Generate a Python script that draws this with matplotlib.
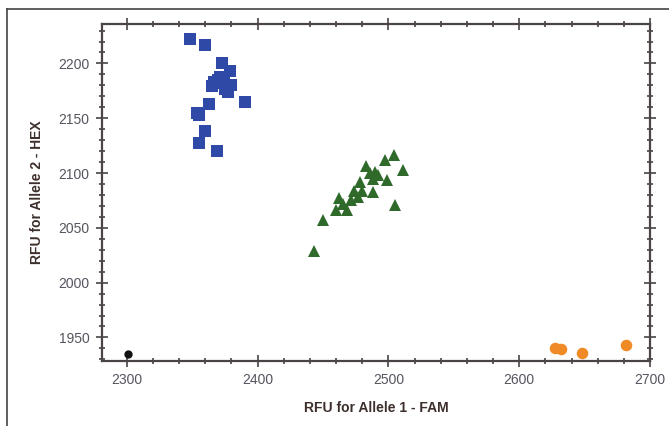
"""Allelic discrimination plot: HEX vs FAM end-point fluorescence."""
import matplotlib
matplotlib.use("Agg")
import matplotlib.pyplot as plt
from matplotlib.lines import Line2D
from matplotlib.ticker import MultipleLocator

# Allele 2 homozygotes (HEX)
hex_fam = [2348, 2360, 2373, 2379, 2371, 2365, 2374, 2380, 2377, 2370, 2375, 2367,
           2390, 2363, 2354, 2355, 2360, 2355, 2369]
hex_hex = [2222, 2217, 2200, 2193, 2188, 2179, 2182, 2180, 2174, 2185, 2177, 2183,
           2165, 2163, 2155, 2153, 2138, 2127, 2120]

# Heterozygotes
het_fam = [2443, 2450, 2460, 2462, 2465, 2468, 2471, 2474, 2478, 2480, 2477, 2483,
           2486, 2488, 2490, 2488, 2497, 2504, 2511, 2499, 2505, 2492]
het_hex = [2029, 2057, 2066, 2077, 2072, 2066, 2075, 2084, 2092, 2084, 2078, 2106,
           2100, 2095, 2101, 2083, 2112, 2116, 2103, 2094, 2071, 2098]

# Allele 1 homozygotes (FAM)
fam_fam = [2627, 2632, 2648, 2682]
fam_hex = [1940, 1939, 1936, 1943]

# No-template control
ntc_fam = [2301]
ntc_hex = [1935]

XLIM = (2281, 2700)
YLIM = (1928.5, 2236)
XTICKS = [2300, 2400, 2500, 2600, 2700]
YTICKS = [1950, 2000, 2050, 2100, 2150, 2200]

plt.rcParams["font.family"] = ["Liberation Sans", "DejaVu Sans"]

fig = plt.figure(figsize=(6.69, 4.26), dpi=100)
ax = fig.add_axes([0.1525, 0.1526, 0.8191, 0.7911])

ax.plot(hex_fam, hex_hex, "s", color="#2f4aa6", markersize=8.3, markeredgewidth=0)
ax.plot(het_fam, het_hex, "^", color="#2f6a2a", markersize=8.5, markeredgewidth=0)
ax.plot(fam_fam, fam_hex, "o", color="#f08a26", markersize=8.3, markeredgewidth=0)
ax.plot(ntc_fam, ntc_hex, "o", color="#111111", markersize=6, markeredgewidth=0)

ax.set_xlim(*XLIM)
ax.set_ylim(*YLIM)
ax.set_xticks(XTICKS)
ax.set_yticks(YTICKS)
ax.xaxis.set_minor_locator(MultipleLocator(20))
ax.yaxis.set_minor_locator(MultipleLocator(10))

spine_color = "#4a4444"
for side in ax.spines.values():
    side.set_color(spine_color)
    side.set_linewidth(1.6)
ax.tick_params(which="both", direction="inout", top=True, right=True,
               color=spine_color, width=1.2, labelcolor="#555560", labelsize=10)
ax.tick_params(which="major", length=8, pad=5)
ax.tick_params(which="minor", length=5)

label_color = "#3d2f2c"
ax.set_xlabel("RFU for Allele 1 - FAM", fontsize=10, fontweight="bold",
              color=label_color, labelpad=10)
ax.set_ylabel("RFU for Allele 2 - HEX", fontsize=10, fontweight="bold",
              color=label_color, labelpad=10)

# thin page frame along the top and left edge
frame_kw = dict(transform=fig.transFigure, color="#444444", linewidth=1.2)
fig.add_artist(Line2D([7 / 669, 1.0], [1 - 9 / 426, 1 - 9 / 426], **frame_kw))
fig.add_artist(Line2D([7 / 669, 7 / 669], [0.0, 1 - 9 / 426], **frame_kw))

fig.savefig("out.png", dpi=100)
